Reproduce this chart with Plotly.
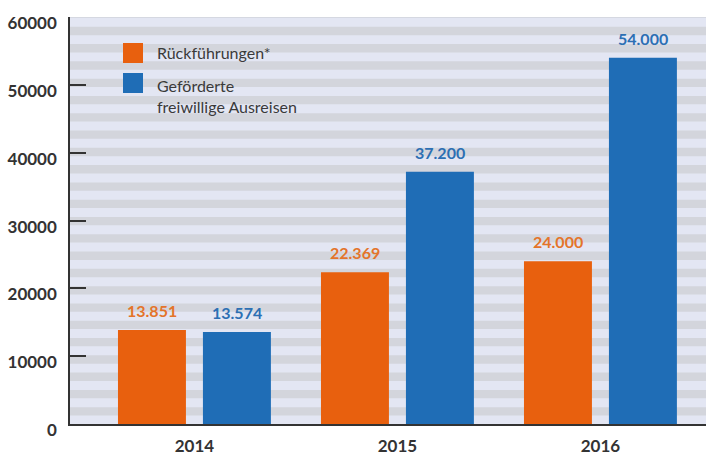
import plotly.graph_objects as go

years = ["2014", "2015", "2016"]
rueckfuehrungen = [13851, 22369, 24000]
gefoerderte = [13574, 37200, 54000]
y_ticks = [0, 10000, 20000, 30000, 40000, 50000, 60000]
series_names = ["Rückführungen*", "Geförderte<br>freiwillige Ausreisen"]

ORANGE = "#e8600e"
BLUE = "#1f6db6"
ORANGE_TXT = "#e4742a"
BLUE_TXT = "#2c6fb3"
DARK = "#333333"
FONT = "Lato"

W, H = 706, 456
ML, MR, MT, MB = 70, 0, 17, 32
PW, PH = W - ML - MR, H - MT - MB
Y_MAX = 60000 * 1.0004


def px_x(px):
    return (px - ML) / PW


def px_y(py):
    return (H - MB - py) / PH


fig = go.Figure()
fig.add_trace(go.Bar(x=years, y=rueckfuehrungen, name=series_names[0],
                     marker=dict(color=ORANGE, line=dict(width=0))))
fig.add_trace(go.Bar(x=years, y=gefoerderte, name=series_names[1],
                     marker=dict(color=BLUE, line=dict(width=0))))

shapes = []
# striped background
period, band = 2550, 1230
for k in range(23):
    y0 = 1250 + k * period
    shapes.append(dict(type="rect", xref="paper", yref="y", x0=0, x1=1,
                       y0=y0, y1=min(y0 + band, 60000), fillcolor="#d3d5dc",
                       line=dict(width=0), layer="below"))
shapes.append(dict(type="line", xref="paper", yref="y", x0=0, x1=1, y0=60000, y1=60000,
                   line=dict(color="#cdd0d8", width=1), layer="below"))

# legend squares
shapes.append(dict(type="rect", xref="paper", yref="paper", x0=px_x(123), x1=px_x(143),
                   y0=px_y(63), y1=px_y(43), fillcolor=ORANGE, line=dict(width=0)))
shapes.append(dict(type="rect", xref="paper", yref="paper", x0=px_x(123), x1=px_x(143),
                   y0=px_y(93), y1=px_y(73), fillcolor=BLUE, line=dict(width=0)))

annotations = []
annotations.append(dict(xref="paper", yref="paper", x=px_x(155), y=px_y(53),
                        xanchor="left", yanchor="middle", showarrow=False,
                        text=series_names[0], align="left",
                        font=dict(family=FONT, size=16, color="#3a3a3a")))
annotations.append(dict(xref="paper", yref="paper", x=px_x(155), y=px_y(96),
                        xanchor="left", yanchor="middle", showarrow=False,
                        text=series_names[1], align="left",
                        font=dict(family=FONT, size=16, color="#3a3a3a")))


def fmt(v):
    return f"{v:,}".replace(",", ".")


for i, v in enumerate(rueckfuehrungen):
    annotations.append(dict(x=i, y=v, xref="x", yref="y", xshift=-42.5, yshift=8,
                            xanchor="center", yanchor="bottom", showarrow=False,
                            text=fmt(v), font=dict(family=FONT, size=16, color=ORANGE_TXT, weight="bold")))
for i, v in enumerate(gefoerderte):
    annotations.append(dict(x=i, y=v, xref="x", yref="y", xshift=42.5, yshift=8,
                            xanchor="center", yanchor="bottom", showarrow=False,
                            text=fmt(v), font=dict(family=FONT, size=16, color=BLUE_TXT, weight="bold")))

fig.update_layout(
    width=W, height=H,
    margin=dict(l=ML, r=MR, t=MT, b=MB, pad=0),
    paper_bgcolor="white",
    plot_bgcolor="#e3e6f3",
    barmode="group",
    bargap=0.163,
    bargroupgap=0.2,
    showlegend=False,
    shapes=shapes,
    annotations=annotations,
    font=dict(family=FONT, color=DARK),
    xaxis=dict(
        type="category", range=[-0.613, 2.52], showgrid=False, zeroline=False,
        showline=True, linecolor=DARK, linewidth=1.5, ticks="",
        tickfont=dict(family=FONT, size=17, color=DARK, weight="bold"),
        ticklabelstandoff=6,
    ),
    yaxis=dict(
        range=[0, Y_MAX], tickvals=y_ticks, ticktext=[str(t) for t in y_ticks],
        showgrid=False, zeroline=False,
        showline=True, linecolor=DARK, linewidth=1.5,
        ticks="inside", ticklen=16, tickwidth=1.5, tickcolor=DARK,
        tickfont=dict(family=FONT, size=17, color=DARK, weight="bold"),
        ticklabelstandoff=8, ticklabelshift=6,
    ),
)

fig.write_html("out.html", config={"displayModeBar": False},
               post_script="document.body.style.margin='0';")
